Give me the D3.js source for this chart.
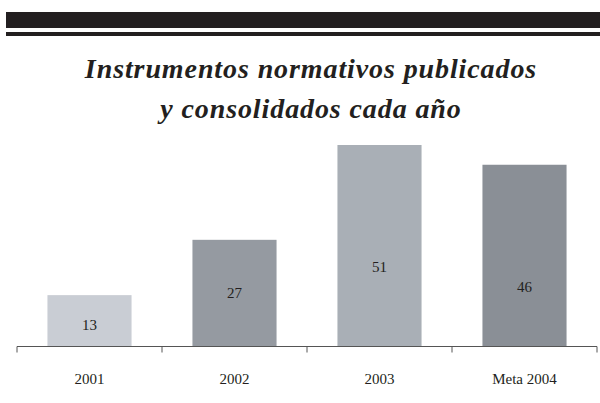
<!DOCTYPE html>
<html lang="es">
<head>
<meta charset="UTF-8">
<title>Instrumentos normativos</title>
<script src="https://d3js.org/d3.v7.min.js"></script>
<style>
  body { margin: 0; background: #fff; }
  svg { display: block; }
</style>
</head>
<body>
<div id="chart"></div>
<script>
// datos
const categories = ['2001', '2002', '2003', 'Meta 2004'];
const values = [13, 27, 51, 46];
const barColors = ['#c9cdd4', '#959aa1', '#a9afb6', '#8a8f96'];
// where each value label sits, in data units
const labelAt = [5.4, 13.5, 20.2, 15.1];

const width = 600, height = 403;
const svg = d3.select('#chart').append('svg')
    .attr('width', width)
    .attr('height', height);

// header bars
svg.append('rect').attr('x', 6).attr('y', 12).attr('width', width - 6).attr('height', 16).attr('fill', '#231f20');
svg.append('rect').attr('x', 6).attr('y', 32).attr('width', width - 6).attr('height', 4).attr('fill', '#231f20');

// title
const title = svg.append('text')
    .attr('text-anchor', 'middle')
    .attr('font-family', 'Liberation Serif, serif')
    .attr('font-style', 'italic')
    .attr('font-weight', 'bold')
    .attr('font-size', 28)
    .attr('letter-spacing', 0.9)
    .attr('fill', '#231f20');
title.append('tspan').attr('x', 311).attr('y', 78).text('Instrumentos normativos publicados');
title.append('tspan').attr('x', 311).attr('y', 118).text('y consolidados cada año');

const x = d3.scaleBand()
    .domain(categories)
    .range([17, 597])
    .paddingInner(0.42)
    .paddingOuter(0.21);

const y = d3.scaleLinear()
    .domain([0, 51])
    .range([346.5, 145]);

svg.selectAll('.bar')
    .data(values)
    .enter().append('rect')
    .attr('class', 'bar')
    .attr('x', (d, i) => x(categories[i]))
    .attr('y', d => y(d))
    .attr('width', x.bandwidth())
    .attr('height', d => y(0) - y(d))
    .attr('fill', (d, i) => barColors[i]);

svg.selectAll('.val')
    .data(values)
    .enter().append('text')
    .attr('class', 'val')
    .attr('x', (d, i) => x(categories[i]) + x.bandwidth() / 2)
    .attr('y', (d, i) => y(labelAt[i]))
    .attr('dy', '0.35em')
    .attr('text-anchor', 'middle')
    .attr('font-family', 'Liberation Serif, serif')
    .attr('font-size', 15)
    .attr('fill', '#231f20')
    .text(d => d);

// axis: baseline + ticks between bands
const axisG = svg.append('g').attr('transform', `translate(0,${y(0)})`);
axisG.append('line')
    .attr('x1', 17).attr('x2', 597)
    .attr('stroke', '#555').attr('stroke-width', 1);
const edges = categories.map((c, i) => i === 0 ? 17 : x(c) - x.step() * x.paddingInner() / 2);
edges.push(597);
axisG.selectAll('.tick')
    .data(edges)
    .enter().append('line')
    .attr('x1', d => d).attr('x2', d => d)
    .attr('y1', 0).attr('y2', 6)
    .attr('stroke', '#555').attr('stroke-width', 1);

axisG.selectAll('.cat')
    .data(categories)
    .enter().append('text')
    .attr('x', d => x(d) + x.bandwidth() / 2)
    .attr('y', 32)
    .attr('dy', '0.35em')
    .attr('text-anchor', 'middle')
    .attr('font-family', 'Liberation Serif, serif')
    .attr('font-size', 15)
    .attr('fill', '#231f20')
    .text(d => d);
</script>
</body>
</html>
